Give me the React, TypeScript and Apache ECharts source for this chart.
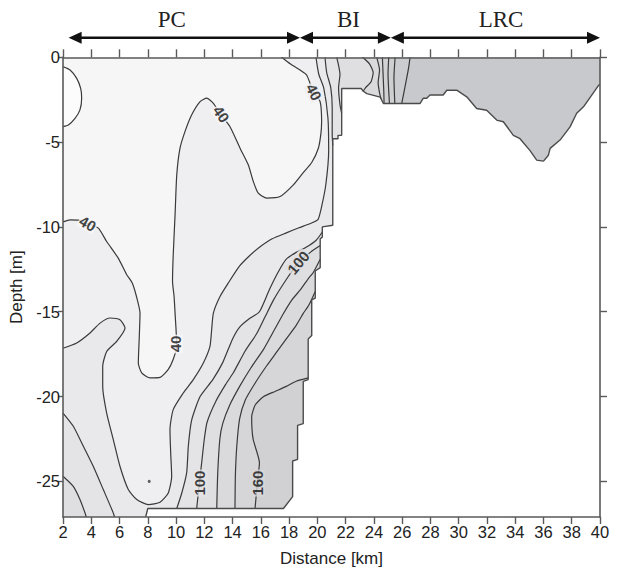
import React, { useEffect, useRef } from "react";
import * as echarts from "echarts";

// ---------- axes ----------
const X_MIN = 2;
const X_MAX = 40;
const Y_MIN = -27.1;
const Y_MAX = 0;
const Y_TICKS = [-25, -20, -15, -10, -5, 0];

// ---------- section outline (bottom of data area): LRC floor, BI shelf, PC wall, PC floor ----------
const BOUNDARY: number[][] = [
  [40, -1.6], [39.9, -1.65], [38.83, -2.92], [38.35, -3.3], [37.88, -4.1], [37.17, -4.88], [36.47, -5.37],
  [36.35, -5.77], [36.0, -6.12], [35.52, -6.06], [35.05, -5.5], [34.34, -4.8], [33.87, -4.6], [33.16, -3.8],
  [32.69, -3.7], [31.98, -3.12], [31.27, -3.02], [30.57, -2.33], [29.86, -1.94], [29.16, -1.94], [28.9, -2.22],
  [27.97, -2.22], [27.74, -2.41], [27.5, -2.41], [27.27, -2.72], [24.67, -2.72], [24.45, -2.35], [23.5, -2.14],
  [23.25, -2.0], [23.1, -1.84], [21.72, -1.84],
  [21.72, -4.6], [21.46, -4.6], [21.46, -4.8], [21.09, -4.8], [21.09, -9.9], [20.35, -10.0], [20.35, -10.6],
  [20.2, -10.7], [20.2, -12.4], [19.85, -12.6], [19.85, -14.2], [19.6, -14.3], [19.6, -16.4], [19.35, -16.6],
  [19.35, -19.0], [19.0, -19.1], [19.0, -21.6], [18.6, -21.7], [18.6, -23.7], [18.25, -23.8], [18.25, -25.9],
  [17.6, -26.6], [8.0, -26.6], [7.85, -27.1],
];

// ---------- contour lines (km, m) ----------
const C20 = [
  [2.0, -0.55], [2.5, -0.75], [2.97, -1.24], [3.25, -1.83], [3.32, -2.41], [3.2, -3.1], [2.85, -3.6], [2.38, -3.99], [2.0, -4.09],
];
const C40 = [
  [2.0, -9.7], [2.5, -9.58], [3.1, -9.6], [3.7, -9.8], [4.5, -10.07], [5.09, -10.86], [5.91, -11.84], [6.5, -12.8],
  [6.9, -13.3], [7.2, -14.1], [7.45, -15.08], [7.4, -16.45], [7.33, -18.02], [7.57, -18.6], [8.16, -18.9], [8.87, -18.87],
  [9.45, -18.4], [9.8, -17.8], [10.05, -17.04], [10.0, -16.06], [9.93, -15.08], [9.86, -14.1], [9.75, -13.2], [9.8, -11.64],
  [9.93, -9.29], [10.05, -6.93], [10.28, -5.36], [10.63, -4.38], [11.1, -3.4], [11.7, -2.61], [12.17, -2.41], [12.64, -2.71],
  [13.2, -3.4], [13.82, -4.09], [14.53, -5.36], [15.11, -6.34], [15.47, -7.33], [15.82, -8.01], [16.42, -8.3], [17.36, -8.21],
  [18.3, -7.52], [19.0, -6.8], [19.6, -6.2], [20.07, -5.36], [20.25, -4.5], [20.3, -3.79], [20.19, -2.6], [19.7, -2.0],
  [19.24, -1.04], [18.77, -0.75], [18.1, -0.4], [17.47, 0],
];
const C60 = [
  [2.0, -17.15], [2.97, -16.84], [3.91, -16.25], [4.62, -15.67], [5.33, -15.37], [6.03, -15.47], [6.39, -15.96], [5.8, -16.75],
  [5.09, -17.34], [4.81, -18.22], [4.81, -19.4], [5.09, -20.97], [5.56, -22.54], [6.03, -24.11], [6.62, -25.48], [7.22, -26.07],
  [8.04, -26.37], [8.87, -26.23], [9.45, -25.68], [9.69, -24.7], [9.62, -23.32], [9.57, -21.95], [9.8, -20.77], [10.51, -19.79],
  [11.22, -19.0], [11.93, -18.02], [12.4, -17.04], [12.52, -16.06], [12.64, -15.08], [13.11, -14.1], [13.7, -13.3], [14.5, -12.3],
  [15.2, -11.7], [15.9, -11.2], [16.8, -10.7], [17.8, -10.35], [18.7, -10.05], [19.5, -9.8], [20.05, -9.55], [20.3, -8.8],
  [20.6, -7.5], [20.8, -5.5], [20.75, -3.6], [20.45, -1.8], [20.1, -1.0], [19.9, 0],
];
const C80_LEFT = [[2.0, -20.97], [2.73, -21.75], [3.44, -22.93], [4.14, -24.11], [4.85, -25.48], [5.56, -26.86], [5.65, -27.1]];
const C80_TOP = [[20.54, 0], [20.66, -0.9], [20.95, -1.8], [21.05, -3.0], [21.05, -4.6], [21.09, -5.2]];
const C80 = [
  [20.35, -10.3], [19.9, -10.8], [19.2, -11.2], [18.5, -11.5], [17.8, -11.9], [17.2, -12.7], [16.6, -13.7], [15.9, -15.0],
  [15.2, -15.4], [14.5, -15.9], [14.0, -16.6], [13.3, -18.0], [12.6, -19.0], [11.7, -20.0], [11.1, -21.4], [10.87, -22.9],
  [10.75, -24.5], [10.4, -25.7], [10.05, -26.6],
];
const C100_LEFT = [[2.0, -24.7], [2.73, -25.3], [3.2, -26.07], [3.56, -26.86], [3.65, -27.1]];
const C100_TOP = [[21.37, 0], [21.6, -1.0], [21.5, -1.8], [21.6, -2.8], [21.72, -3.3]];
const C100 = [
  [20.2, -11.1], [19.5, -11.5], [18.65, -12.1], [17.8, -13.1], [16.9, -14.3], [16.3, -15.3], [15.7, -16.3], [14.9, -17.3],
  [14.05, -18.6], [13.5, -19.3], [12.8, -20.3], [12.2, -21.5], [12.0, -22.5], [11.8, -24.0], [11.65, -25.1], [11.46, -26.6],
];
const C120_BI = [[23.2, 0], [23.7, -0.4], [23.95, -0.9], [23.8, -1.44], [23.4, -1.8], [23.25, -2.0]];
const C120 = [
  [20.2, -11.9], [19.7, -12.7], [19.4, -13.0], [18.8, -13.7], [18.2, -14.3], [17.6, -15.1], [17.0, -16.0], [16.2, -17.2],
  [15.3, -18.3], [14.5, -19.4], [13.8, -20.5], [13.3, -21.6], [13.1, -22.5], [12.95, -24.5], [12.88, -26.6],
];
const C140_BI = [[24.2, 0], [24.4, -0.75], [24.3, -1.5], [24.4, -2.1], [24.5, -2.45]];
const C140 = [
  [19.85, -13.8], [19.4, -14.6], [19.0, -15.1], [18.5, -15.8], [17.8, -16.6], [17.1, -17.4], [16.4, -18.2], [15.6, -19.2],
  [14.9, -20.2], [14.5, -21.3], [14.3, -22.9], [14.2, -24.6], [14.17, -26.6],
];
const C160_BI = [[24.6, 0], [24.65, -1.0], [24.7, -2.0], [24.72, -2.72]];
const C160 = [
  [19.35, -18.9], [18.5, -19.1], [17.8, -19.4], [17.0, -19.7], [16.2, -20.0], [15.6, -20.5], [15.35, -21.2], [15.45, -22.5],
  [15.9, -23.9], [15.75, -25.1], [15.59, -26.6],
];
const C180_BI = [[25.05, 0], [25.0, -1.0], [25.05, -2.0], [25.1, -2.72]];
const C200_BI = [[25.5, 0], [25.42, -1.2], [25.48, -2.72]];
const C220_BI = [[26.56, 0], [26.44, -0.7], [26.2, -1.75], [25.97, -2.72]];
const SMALL_LOOP = [[8.1, -25.0]];

// ---------- contour labels ----------
const LABEL_TEXT = ["40", "40", "40", "40", "100", "160", "100"];
const LABEL_POS = [[3.75, -9.8], [13.2, -3.35], [19.75, -2.05], [9.97, -16.9], [11.68, -25.1], [15.75, -25.1], [18.65, -12.1]];
const LABEL_ROT = [-30, -55, -63, 90, 90, 90, 50];

// ---------- water mass annotations ----------
const REGION_NAMES = ["PC", "BI", "LRC"];
const REGION_SPANS = [[2.4, 18.77], [18.77, 25.2], [25.2, 40]];
const REGION_LABEL_X = [9.7, 22.2, 33.0];

// ---------- colours ----------
const BAND = {
  lt20: "#fcfcfc", b20: "#f6f6f7", b40: "#efeff1", b60: "#e9e9eb", b80: "#e4e4e6", b100: "#dfdfe1",
  b120: "#dadadc", b140: "#d6d6d8", b160: "#d1d1d4", b180: "#cecfd1", b200: "#cbcccf", b220: "#c8c9cc",
};
const LABEL_BG = [BAND.b20, BAND.b20, BAND.b40, BAND.b20, BAND.b80, BAND.b140, BAND.b100];
const LINE_COLOR = "#3a3a3a";
const FONT = "Liberation Sans";

export default function App() {
  const ref = useRef<HTMLDivElement>(null);

  useEffect(() => {
    document.body.style.margin = "0";
    if (!ref.current) return;
    const chart = echarts.init(ref.current, undefined, { renderer: "svg" });

    const WHITE: number[] = [30, -20]; // a point in the no-data area, used to join pieces of one level
    const last = (a: number[][]) => a[a.length - 1];
    const right = (pcPart: number[][]) => [[last(pcPart)[0], Y_MIN], [X_MAX, Y_MIN], [X_MAX, Y_MAX]];

    const FILLS: { color: string; pts: number[][] }[] = [
      { color: BAND.b20, pts: [[X_MIN, Y_MAX], [X_MAX, Y_MAX], [X_MAX, Y_MIN], [X_MIN, Y_MIN]] },
      { color: BAND.lt20, pts: [...C20] },
      { color: BAND.b40, pts: [...C40, [X_MAX, Y_MAX], [X_MAX, Y_MIN], [X_MIN, Y_MIN]] },
      { color: BAND.b60, pts: [...C60, [X_MAX, Y_MAX], [X_MAX, Y_MIN], [X_MIN, Y_MIN]] },
      { color: BAND.b80, pts: [...C80_LEFT, [X_MIN, Y_MIN]] },
      { color: BAND.b80, pts: [...C80_TOP, WHITE, ...C80, ...right(C80)] },
      { color: BAND.b100, pts: [...C100_LEFT, [X_MIN, Y_MIN]] },
      { color: BAND.b100, pts: [...C100_TOP, WHITE, ...C100, ...right(C100)] },
      { color: BAND.b120, pts: [...C120_BI, WHITE, ...C120, ...right(C120)] },
      { color: BAND.b140, pts: [...C140_BI, WHITE, ...C140, ...right(C140)] },
      { color: BAND.b160, pts: [...C160_BI, WHITE, ...C160, ...right(C160)] },
      { color: BAND.b180, pts: [...C180_BI, WHITE, [X_MAX, Y_MIN], [X_MAX, Y_MAX]] },
      { color: BAND.b200, pts: [...C200_BI, WHITE, [X_MAX, Y_MIN], [X_MAX, Y_MAX]] },
      { color: BAND.b220, pts: [...C220_BI, WHITE, [X_MAX, Y_MIN], [X_MAX, Y_MAX]] },
      { color: "#ffffff", pts: [...BOUNDARY, [X_MAX, Y_MIN]] },
    ];

    const LINES = [C20, C40, C60, C80_LEFT, C80_TOP, C80, C100_LEFT, C100_TOP, C100, C120_BI, C120,
      C140_BI, C140, C160_BI, C160, C180_BI, C200_BI, C220_BI];

    const axisLine = { show: true, onZero: false, lineStyle: { color: "#5a5a5a", width: 1.6 } };
    const tickStyle = { color: "#5a5a5a", width: 1.4 };

    const lineSeries = LINES.map((pts) => ({
      type: "line",
      data: pts,
      showSymbol: false,
      symbol: "none",
      smooth: 0.2,
      silent: true,
      clip: true,
      lineStyle: { color: LINE_COLOR, width: 1.2 },
      z: 4,
    }));

    const option: any = {
      animation: false,
      grid: { left: 63, right: 17, top: 57.3, bottom: 54.5, show: false },
      xAxis: [
        {
          type: "value", min: X_MIN, max: X_MAX, interval: 2, position: "bottom", z: 10,
          axisLine, axisTick: { show: true, inside: false, length: 7, lineStyle: tickStyle },
          axisLabel: { color: "#222", fontSize: 16.5, fontFamily: FONT, margin: 6 },
          splitLine: { show: false },
          name: "Distance [km]", nameLocation: "middle", nameGap: 33,
          nameTextStyle: { color: "#222", fontSize: 17, fontFamily: FONT },
        },
        {
          type: "value", min: X_MIN, max: X_MAX, interval: 2, position: "top", z: 10,
          axisLine, axisTick: { show: true, inside: false, length: 8, lineStyle: tickStyle },
          axisLabel: { show: false }, splitLine: { show: false },
        },
      ],
      yAxis: [
        {
          type: "value", min: Y_MIN, max: Y_MAX, position: "left", z: 10,
          axisLine, axisTick: { show: true, inside: false, length: 5, lineStyle: tickStyle, customValues: Y_TICKS },
          axisLabel: { color: "#222", fontSize: 16.5, fontFamily: FONT, margin: 3, customValues: Y_TICKS },
          splitLine: { show: false },
          name: "Depth [m]", nameLocation: "middle", nameGap: 32, nameRotate: 90,
          nameTextStyle: { color: "#222", fontSize: 17, fontFamily: FONT },
        },
        {
          type: "value", min: Y_MIN, max: Y_MAX, position: "right", z: 10,
          axisLine, axisTick: { show: true, inside: false, length: 7, lineStyle: tickStyle, customValues: Y_TICKS },
          axisLabel: { show: false }, splitLine: { show: false },
        },
      ],
      series: [
        {
          type: "custom",
          coordinateSystem: "cartesian2d",
          clip: true,
          silent: true,
          z: 2,
          data: FILLS.map(() => [X_MIN, Y_MAX]),
          renderItem: (params: any, api: any) => {
            const f = FILLS[params.dataIndex];
            return {
              type: "polygon",
              shape: { points: f.pts.map((p) => api.coord(p)) },
              style: { fill: f.color, stroke: f.color, lineWidth: 0.6 },
            };
          },
        },
        ...lineSeries,
        {
          type: "line",
          data: BOUNDARY,
          showSymbol: false,
          symbol: "none",
          silent: true,
          lineStyle: { color: "#4a4a4a", width: 1.4 },
          z: 5,
        },
        {
          type: "scatter",
          data: SMALL_LOOP,
          symbolSize: 3,
          itemStyle: { color: LINE_COLOR },
          silent: true,
          z: 5,
        },
        {
          type: "scatter",
          symbolSize: 0,
          silent: true,
          z: 6,
          data: LABEL_POS.map((p, i) => ({
            value: p,
            label: {
              show: true,
              position: "inside",
              formatter: LABEL_TEXT[i],
              rotate: LABEL_ROT[i],
              backgroundColor: LABEL_BG[i],
              padding: [0, 1],
            },
          })),
          label: { color: "#111", fontSize: 15, fontWeight: "bold", fontFamily: FONT },
        },
        {
          type: "custom",
          coordinateSystem: "cartesian2d",
          clip: false,
          silent: true,
          z: 7,
          data: REGION_NAMES.map(() => [X_MIN, Y_MAX]),
          renderItem: (params: any, api: any) => {
            const i = params.dataIndex;
            const [a, b] = REGION_SPANS[i];
            const p1 = api.coord([a, Y_MAX]);
            const p2 = api.coord([b, Y_MAX]);
            const y = p1[1] - 19.5;
            const hl = 13;
            const hw = 6;
            const tx = api.coord([REGION_LABEL_X[i], Y_MAX])[0];
            return {
              type: "group",
              children: [
                {
                  type: "line",
                  shape: { x1: p1[0] + hl - 2, y1: y, x2: p2[0] - hl + 2, y2: y },
                  style: { stroke: "#111", lineWidth: 2.6 },
                },
                {
                  type: "polygon",
                  shape: { points: [[p1[0], y], [p1[0] + hl, y - hw], [p1[0] + hl, y + hw]] },
                  style: { fill: "#111" },
                },
                {
                  type: "polygon",
                  shape: { points: [[p2[0], y], [p2[0] - hl, y - hw], [p2[0] - hl, y + hw]] },
                  style: { fill: "#111" },
                },
                {
                  type: "text",
                  x: tx,
                  y: y - 18,
                  style: {
                    text: REGION_NAMES[i],
                    fill: "#222",
                    font: '23px "Liberation Serif"',
                    align: "center",
                    verticalAlign: "middle",
                    textAlign: "center",
                    textVerticalAlign: "middle",
                  },
                },
              ],
            };
          },
        },
      ],
    };

    chart.setOption(option);
    return () => chart.dispose();
  }, []);

  return <div ref={ref} style={{ width: 617, height: 572 }} />;
}
